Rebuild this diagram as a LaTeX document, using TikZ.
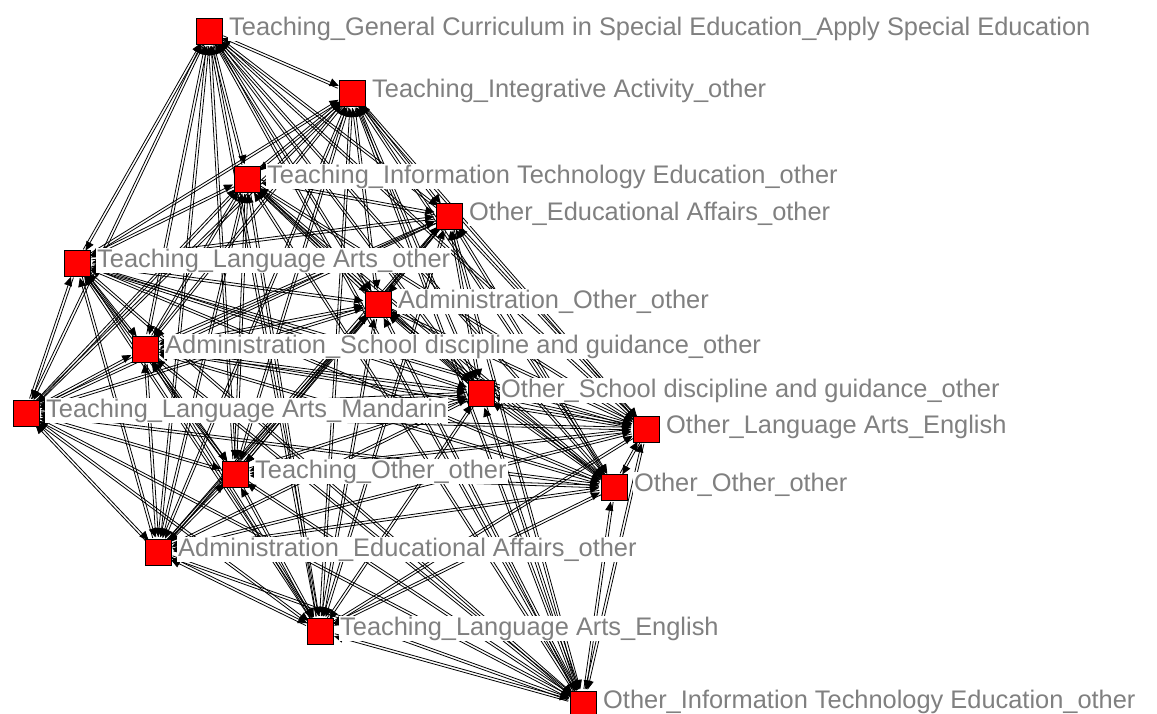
\documentclass[tikz,border=0pt]{standalone}
\usepackage{fontspec}
\setmainfont{Liberation Sans}
\usetikzlibrary{calc,arrows.meta}
\pgfdeclarelayer{edges}
\pgfdeclarelayer{paper}
\pgfsetlayers{paper,edges,main}
\definecolor{labelgray}{RGB}{128,128,128}
\begin{document}
\begin{tikzpicture}[x=1pt,y=-1pt,
  actor/.style={rectangle,draw=black,fill=red,line width=0.9pt,minimum size=26pt,inner sep=0pt},
  tag/.style={anchor=base west,text=labelgray,fill=white,inner sep=1pt,
    font=\fontsize{25.4}{27}\selectfont},
  tie/.style={line width=0.8pt,-{Triangle[length=9pt,width=8pt]},
    shorten >=15pt,shorten <=15pt,
    to path={($(\tikztostart)!1.3pt!90:(\tikztotarget)$) -- ($(\tikztotarget)!1.3pt!-90:(\tikztostart)$)}}]
\useasboundingbox (0,0) rectangle (1157,713);
\begin{pgfonlayer}{paper}
\fill[white] (0,0) rectangle (1157,713);
\end{pgfonlayer}

% actors
\foreach \n/\x/\y in {1/209/31, 2/352/93, 3/247/179, 4/449/216, 5/77/263,
  6/378/304, 7/145/349, 8/481/393, 9/26/413, 10/646/429, 11/235/474,
  12/614/487, 13/158/552, 14/320/631, 15/583/704}
  \node[actor] (n\n) at (\x,\y) {};

% labels
\foreach \n/\t in {
  1/{Teaching\_General Curriculum in Special Education\_Apply Special Education},
  2/{Teaching\_Integrative Activity\_other},
  3/{Teaching\_Information Technology Education\_other},
  4/{Other\_Educational Affairs\_other},
  5/{Teaching\_Language Arts\_other},
  6/{Administration\_Other\_other},
  7/{Administration\_School discipline and guidance\_other},
  8/{Other\_School discipline and guidance\_other},
  9/{Teaching\_Language Arts\_Mandarin},
  10/{Other\_Language Arts\_English},
  11/{Teaching\_Other\_other},
  12/{Other\_Other\_other},
  13/{Administration\_Educational Affairs\_other},
  14/{Teaching\_Language Arts\_English},
  15/{Other\_Information Technology Education\_other}}
  \node[tag] (l\n) at ($(n\n.center)+(19,4)$) {\t};

% directed ties between every pair of actors
\begin{pgfonlayer}{edges}
\foreach \i in {1,...,15}{
  \foreach \j in {1,...,15}{
    \ifnum\i=\j\relax\else
      \draw[tie] (n\i) to (n\j);
    \fi
  }
}
\end{pgfonlayer}
\end{tikzpicture}
\end{document}
